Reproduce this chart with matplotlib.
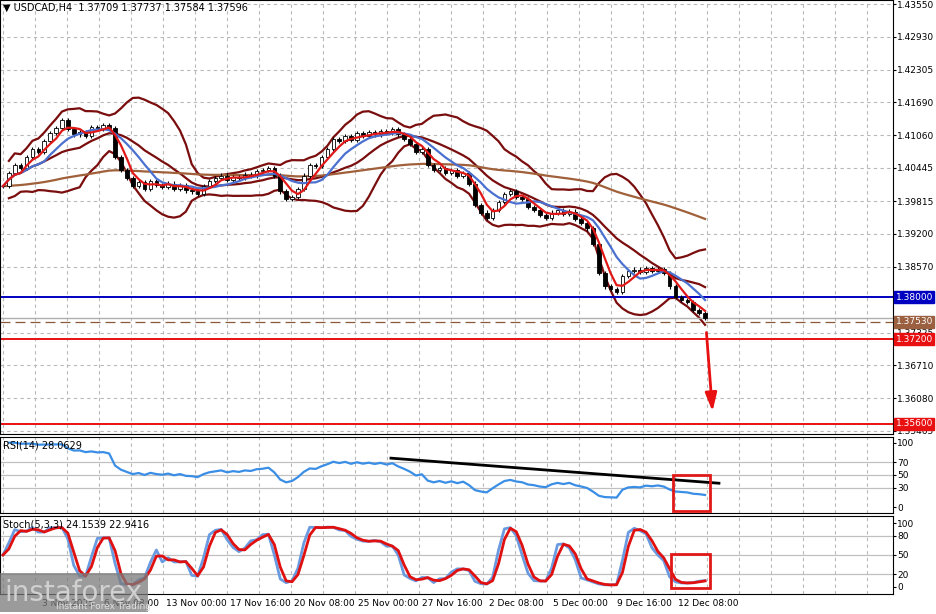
import numpy as np
import pandas as pd
import matplotlib
matplotlib.use("Agg")
import matplotlib.pyplot as plt

# closes, one per H4 bar (compressed)
closes = [
    1.4010, 1.4035, 1.4050, 1.4045, 1.4065, 1.4080, 1.4075, 1.4095, 1.4110, 1.4120,
    1.4135, 1.4118, 1.4108, 1.4112, 1.4105, 1.4122, 1.4118, 1.4125, 1.4120, 1.4065,
    1.4040, 1.4025, 1.4010, 1.4018, 1.4005, 1.4020, 1.4012, 1.4008, 1.4015, 1.4005,
    1.4012, 1.4002, 1.4000, 1.3995, 1.4010, 1.4020, 1.4025, 1.4030, 1.4022, 1.4028,
    1.4025, 1.4032, 1.4030, 1.4038, 1.4040, 1.4045, 1.4030, 1.4000, 1.3985, 1.3990,
    1.4005, 1.4030, 1.4050, 1.4048, 1.4065, 1.4080, 1.4100, 1.4095, 1.4105, 1.4098,
    1.4110, 1.4105, 1.4112, 1.4108, 1.4115, 1.4110, 1.4118, 1.4108, 1.4100, 1.4090,
    1.4075, 1.4080, 1.4050, 1.4040, 1.4045, 1.4035, 1.4040, 1.4030, 1.4035, 1.4015,
    1.3975, 1.3960, 1.3950, 1.3965, 1.3980, 1.3995, 1.4000, 1.3990, 1.3985, 1.3970,
    1.3965, 1.3955, 1.3950, 1.3960, 1.3965, 1.3958, 1.3962, 1.3948, 1.3940, 1.3930,
    1.3900, 1.3845, 1.3820, 1.3815, 1.3810, 1.3840, 1.3850, 1.3852, 1.3848, 1.3855,
    1.3850, 1.3853, 1.3845, 1.3820, 1.3800, 1.3795, 1.3790, 1.3775, 1.3770, 1.3760,
]
price_ticks = [1.43550, 1.42930, 1.42305, 1.41690, 1.41060, 1.40445, 1.39815,
               1.39200, 1.38570, 1.37325, 1.36710, 1.36080, 1.35465]
date_labels = ["3 Nov 2025", "6 Nov 08:00", "13 Nov 00:00", "17 Nov 16:00", "20 Nov 08:00",
               "25 Nov 00:00", "27 Nov 16:00", "2 Dec 08:00", "5 Dec 00:00",
               "9 Dec 16:00", "12 Dec 08:00"]
levels = {"1.38000": (1.3800, "#0000c0"), "1.37200": (1.3720, "#e81010"),
          "1.35600": (1.3560, "#e81010")}
last_price = 1.3760
dash_price = 1.3753

PX = 5.9  # pixels per bar
c = pd.Series(closes)
o = c.shift(1).fillna(c.iloc[0])
hi = np.maximum(o, c) + 0.0004
lo = np.minimum(o, c) - 0.0004
n = len(c)
idx = np.arange(n)

ma_fast = c.rolling(4, min_periods=1).mean()
ma_mid = c.rolling(8, min_periods=1).mean()
ma_slow = c.ewm(span=90, adjust=False).mean()
bb_mid = c.rolling(14, min_periods=2).mean()
bb_sd = c.rolling(14, min_periods=2).std()
bb_up = bb_mid + 2 * bb_sd
bb_lo = bb_mid - 2 * bb_sd

d = c.diff()
up = d.clip(lower=0).ewm(alpha=1 / 14, adjust=False).mean()
dn = (-d.clip(upper=0)).ewm(alpha=1 / 14, adjust=False).mean()
rsi = 100 - 100 / (1 + up / dn.replace(0, 1e-9))
hh = hi.rolling(4, min_periods=1).max()
ll = lo.rolling(4, min_periods=1).min()
k = ((c - ll) / (hh - ll) * 100).rolling(2, min_periods=1).mean()
dline = k.rolling(2, min_periods=1).mean()

fig = plt.figure(figsize=(9.37, 6.14), dpi=100)
W = 893 / 937
ax = fig.add_axes([0, 1 - 434 / 614, W, 434 / 614])
ax_r = fig.add_axes([0, 1 - 513 / 614, W, 76 / 614], sharex=ax)
ax_s = fig.add_axes([0, 1 - 594 / 614, W, 78 / 614], sharex=ax)

xmax = 893 / PX - 0.5
grid_x = np.arange(0, 893, 32) / PX
lab_x = (np.arange(len(date_labels)) * 64 + 65) / PX

for a in (ax, ax_r, ax_s):
    a.set_xlim(-0.5, xmax)
    a.yaxis.tick_right()
    a.tick_params(axis="y", labelsize=6.5, length=2, pad=1)
    a.tick_params(axis="x", length=0, labelbottom=False)
    for x in grid_x:
        a.axvline(x, color="#b8b8b8", ls=(0, (3, 3)), lw=0.8, zorder=0)
    for s in a.spines.values():
        s.set_color("black")

# main price panel
ax.set_ylim(1.35406, 1.43626)
ax.set_yticks(price_ticks)
ax.set_yticklabels([f"{t:.5f}" for t in price_ticks])
for t in price_ticks:
    ax.axhline(t, color="#b8b8b8", ls=(0, (3, 3)), lw=0.8, zorder=0)

bull = c >= o
ax.vlines(idx, lo, hi, color="black", lw=0.8, zorder=3)
bh = np.maximum((c - o).abs(), 0.00008)
ax.bar(idx, bh, bottom=np.minimum(o, c), width=0.6,
       color=np.where(bull, "white", "black"), edgecolor="black", lw=0.6, zorder=4)

ax.plot(idx, bb_up, color="#7a0d0d", lw=1.6, zorder=2)
ax.plot(idx, bb_lo, color="#7a0d0d", lw=1.6, zorder=2)
ax.plot(idx, bb_mid, color="#7a0d0d", lw=1.6, zorder=2)
ax.plot(idx, ma_slow, color="#a0603a", lw=1.6, zorder=2)
ax.plot(idx, ma_mid, color="#4a70d0", lw=1.6, zorder=5)
ax.plot(idx, ma_fast, color="#e01818", lw=1.6, zorder=6)

ax.axhline(last_price, color="#b0b0b0", lw=1)
ax.axhline(dash_price, color="#8b5a3a", lw=0.9, ls=(0, (8, 4)))
for name, (val, col) in levels.items():
    ax.axhline(val, color=col, lw=1.4)
    ax.text(1.003, val, name, transform=ax.get_yaxis_transform(), fontsize=6.5,
            color="white", va="center", ha="left", clip_on=False, zorder=10,
            bbox=dict(boxstyle="square,pad=0.15", fc=col, ec=col))
ax.text(1.003, dash_price, "1.37530", transform=ax.get_yaxis_transform(), fontsize=6.5,
        color="white", va="center", ha="left", clip_on=False, zorder=10,
        bbox=dict(boxstyle="square,pad=0.15", fc="#9a6040", ec="#9a6040"))
ax.annotate("", xy=(n + 0.3, 1.3578), xytext=(n - 0.8, 1.3738),
            arrowprops=dict(arrowstyle="-|>,head_width=0.35,head_length=1.1",
                            color="#e81010", lw=2))
ax.text(0.003, 0.994, "\u25bc USDCAD,H4  1.37709 1.37737 1.37584 1.37596",
        transform=ax.transAxes, fontsize=7, va="top", ha="left")

# RSI panel
ax_r.set_ylim(-9.3, 108.9)
ax_r.set_yticks([100, 70, 50, 30, 0])
ax_r.set_yticklabels(["100", "70", "50", "30", "0"])
for t in (70, 50, 30):
    ax_r.axhline(t, color="#c0c0c0", lw=0.9, zorder=0)
ax_r.plot(idx, rsi, color="#3a8ee6", lw=1.6)
ax_r.plot([388 / PX, 716 / PX], [76, 37], color="black", lw=2)
ax_r.add_patch(plt.Rectangle((670 / PX, -6), 37 / PX, 56, fill=False,
                             ec="#e01818", lw=2, zorder=6, clip_on=False))
ax_r.text(0.003, 0.95, "RSI(14) 28.0629", transform=ax_r.transAxes, fontsize=7, va="top")

# Stochastic panel
ax_s.set_ylim(-11, 111)
ax_s.set_yticks([100, 80, 50, 20, 0])
ax_s.set_yticklabels(["100", "80", "50", "20", "0"])
for t in (80, 50, 20):
    ax_s.axhline(t, color="#c0c0c0", lw=0.9, zorder=0)
ax_s.plot(idx, k, color="#6a9ae0", lw=2)
ax_s.plot(idx, dline, color="#e01010", lw=2)
ax_s.add_patch(plt.Rectangle((668 / PX, -1), 39 / PX, 53, fill=False,
                             ec="#e01818", lw=2, zorder=6, clip_on=False))
ax_s.text(0.003, 0.95, "Stoch(5,3,3) 24.1539 22.9416", transform=ax_s.transAxes,
          fontsize=7, va="top")

for x, lab in zip(lab_x, date_labels):
    fig.text((x + 0.5) * PX / 937, 1 - 604 / 614, lab, fontsize=6.5, ha="center", va="center")

# watermark
fig.text(0.005, 0.035, "instaforex", fontsize=20, color="#d0d0d0", ha="left", va="center",
         bbox=dict(boxstyle="square,pad=0.2", fc="#7a7a7a", ec="none", alpha=0.75))
fig.text(0.06, 0.012, "Instant Forex Trading", fontsize=6.5, color="#e0e0e0", ha="left",
         va="center")

fig.savefig("out.png", dpi=100)
